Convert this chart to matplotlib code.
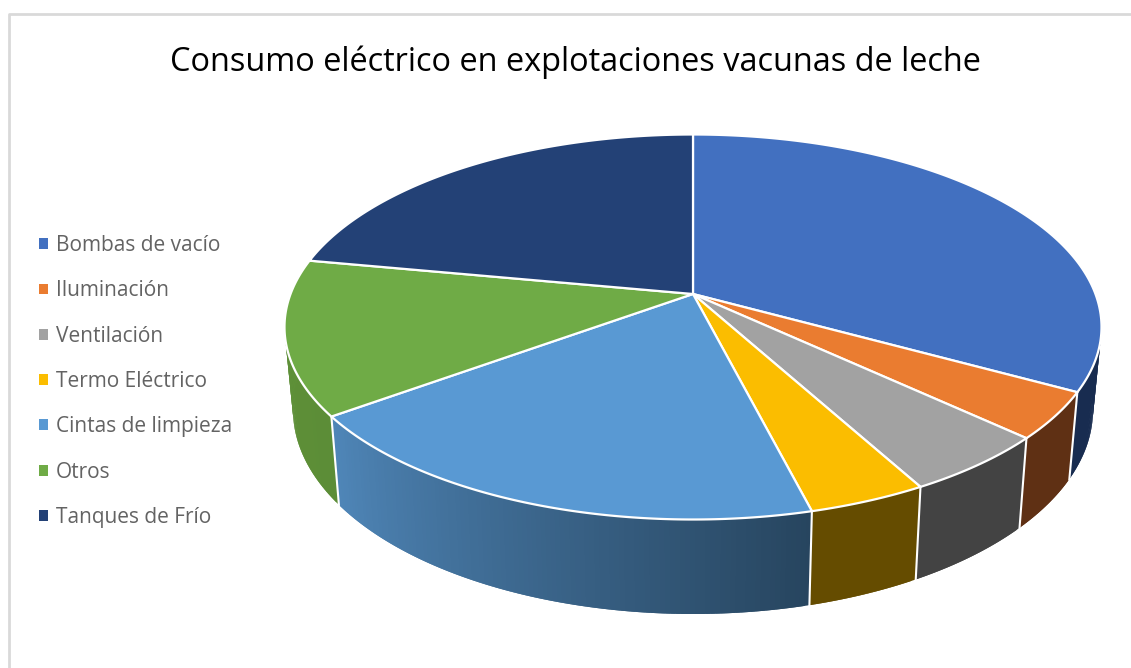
import numpy as np
import matplotlib
matplotlib.use('Agg')
import matplotlib.pyplot as plt
from matplotlib.patches import Patch, Polygon

categorias = ['Bombas de vacío', 'Iluminación', 'Ventilación', 'Termo Eléctrico',
              'Cintas de limpieza', 'Otros', 'Tanques de Frío']
consumo = [30.5, 4.3, 5.8, 4.7, 22.0, 13.3, 19.4]
colores = ['#4270C0', '#EA7C30', '#A2A2A2', '#FBBD00', '#5999D3', '#6FAB46', '#234176']
lados_ini = ['#182c50', '#5f3014', '#434343', '#654c00', '#4f86b8', '#5f9138', '#182c50']
lados_fin = ['#182c50', '#5f3014', '#434343', '#654c00', '#27455f', '#5c8d37', '#182c50']
titulo = 'Consumo eléctrico en explotaciones vacunas de leche'

# geometria del pastel en pixeles
cx = 693
cy_arriba, rx_arriba, ry_arriba = 327, 408.5, 192.5
cy_abajo, rx_abajo, ry_abajo = 410, 400, 204
apice_y = 294


def arriba(t):
    return cx + rx_arriba * np.sin(t), cy_arriba - ry_arriba * np.cos(t)


def abajo(t):
    return cx + rx_abajo * np.sin(t), cy_abajo - ry_abajo * np.cos(t)


fig = plt.figure(figsize=(11.31, 6.68), dpi=100)
ax = fig.add_axes([0, 0, 1, 1])
ax.set_xlim(0, 1131)
ax.set_ylim(668, 0)
ax.axis('off')

# marco del grafico
ax.plot([8.7, 8.7, 1131], [668, 13.5, 13.5], color='#d9d9d9', lw=2)

bordes = np.radians(np.cumsum([0] + consumo) * 3.6)

# caras laterales, solo la parte de delante
for i in range(len(consumo)):
    t0 = max(bordes[i], np.pi / 2 - 0.25)
    t1 = min(bordes[i + 1], 3 * np.pi / 2 + 0.25)
    if t1 <= t0:
        continue
    n = max(2, int((t1 - t0) * 80))
    pasos = np.linspace(t0, t1, n + 1)
    c0 = np.array(matplotlib.colors.to_rgb(lados_ini[i]))
    c1 = np.array(matplotlib.colors.to_rgb(lados_fin[i]))
    for j in range(n):
        # cada tira pisa la siguiente para que no se vean costuras
        ta = np.linspace(pasos[j], pasos[min(j + 2, n)], 5)
        xa, ya = arriba(ta)
        xb, yb = abajo(ta)
        # el degradado va en sentido contrario al giro
        f = 1 - j / max(1, n - 1)
        col = c0 + (c1 - c0) * f
        ax.add_patch(Polygon(np.r_[np.c_[xa, ya], np.c_[xb, yb][::-1]],
                             closed=True, fc=col, ec='none', zorder=2))
    # lineas blancas entre caras
    if bordes[i] > np.pi / 2 and bordes[i] < 3 * np.pi / 2:
        xa, ya = arriba(bordes[i])
        xb, yb = abajo(bordes[i])
        ax.plot([xa, xb], [ya, yb], color='white', lw=1.5, zorder=3)

# cara de arriba
for i in range(len(consumo)):
    ts = np.linspace(bordes[i], bordes[i + 1], 150)
    x, y = arriba(ts)
    pts = np.r_[[[cx, apice_y]], np.c_[x, y]]
    ax.add_patch(Polygon(pts, closed=True, fc=colores[i], ec='white', lw=1.6,
                         joinstyle='round', zorder=4))

ax.text(575.5, 62, titulo, ha='center', va='center', fontsize=23.37,
        family='Open Sans', color='black')

manejadores = [Patch(fc=c, ec='none') for c in colores]
ley = ax.legend(manejadores, categorias, loc='center left', bbox_to_anchor=(39 / 1131, 1 - 381.5 / 668),
                frameon=False, borderpad=0, borderaxespad=0, handlelength=0.43, handleheight=0.43,
                handletextpad=0.38, labelspacing=1.165, prop={'family': 'Open Sans', 'size': 15},
                labelcolor='#636363')

fig.savefig('out.png', dpi=100, facecolor='white')
